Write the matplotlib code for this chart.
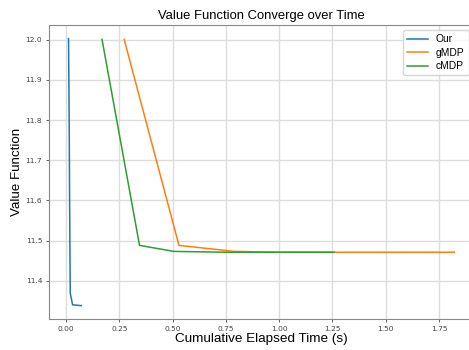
import matplotlib
matplotlib.use("Agg")
import matplotlib.pyplot as plt

# data
our_t = [0.012, 0.015, 0.017, 0.020, 0.031, 0.072]
our_v = [12.003, 11.80, 11.60, 11.369, 11.340, 11.338]

gmdp_t = [0.273, 0.530, 0.790, 1.00, 1.25, 1.50, 1.822]
gmdp_v = [12.001, 11.488, 11.473, 11.471, 11.471, 11.471, 11.471]

cmdp_t = [0.169, 0.345, 0.507, 0.75, 1.00, 1.257]
cmdp_v = [12.001, 11.488, 11.473, 11.471, 11.471, 11.471]

sans = ['Liberation Sans', 'DejaVu Sans']

fig = plt.figure(figsize=(4.69, 3.5), dpi=100)
ax = fig.add_axes([0.105, 0.0886, 0.905, 0.8394])

ax.plot(our_t, our_v, label='Our', color='#1f77b4', lw=1.1)
ax.plot(gmdp_t, gmdp_v, label='gMDP', color='#ff7f0e', lw=1.1)
ax.plot(cmdp_t, cmdp_v, label='cMDP', color='#2ca02c', lw=1.1)

ax.grid(True, color='#dddddd', lw=1.0)
ax.set_axisbelow(True)
for s in ax.spines.values():
    s.set_color('#888888')
ax.tick_params(labelsize=5.4, colors='#444444', length=2.5, width=0.6, pad=2.5)
ax.set_xticks([0.0, 0.25, 0.5, 0.75, 1.0, 1.25, 1.5, 1.75])
ax.set_yticks([11.4, 11.5, 11.6, 11.7, 11.8, 11.9, 12.0])

ax.set_xlabel('Cumulative Elapsed Time (s)', fontsize=9.7, family=sans, labelpad=1)
ax.set_ylabel('Value Function', fontsize=9.6, family=sans, labelpad=2)
ax.set_title('Value Function Converge over Time', fontsize=9.4, family=sans, pad=4.5)
ax.legend(loc='upper right', prop={'family': sans, 'size': 7.4}, labelspacing=0.33,
          borderaxespad=0.5)

fig.savefig('out.png', dpi=100)
